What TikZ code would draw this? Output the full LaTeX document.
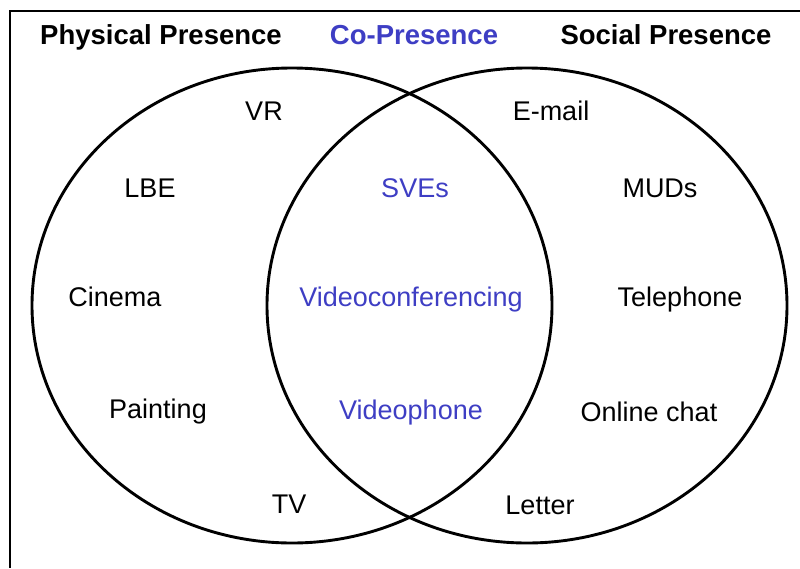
\documentclass[tikz,border=0pt]{standalone}
\usepackage{fontspec}
\setmainfont{Liberation Sans}
\definecolor{coblue}{RGB}{62,62,196}
\begin{document}
\begin{tikzpicture}[x=1pt,y=-1pt,
  lbl/.style={font=\fontsize{27}{32}\selectfont, anchor=base, inner sep=0pt},
  head/.style={font=\fontsize{27.5}{32}\selectfont\bfseries, anchor=base, inner sep=0pt},
  co/.style={text=coblue},
  ring/.style={line width=2.9pt}]
\useasboundingbox[fill=white] (0,0) rectangle (800,568);
% frame (top and left edges)
\coordinate (frameTR) at (800,11);
\coordinate (frameTL) at (10,11);
\coordinate (frameBL) at (10,568);
\draw[line width=2.9pt] (frameTR) -- (frameTL) -- (frameBL);

% the two overlapping sets
\coordinate (physC) at (292,305.5);
\coordinate (socC) at (527,305.5);
\draw[ring] (physC) ellipse [x radius=260, y radius=237.5];
\draw[ring] (socC) ellipse [x radius=260, y radius=237.5];

% headings
\node[head] (hPhys) at (161,44) {Physical Presence};
\node[head,co] (hCo) at (414,44) {Co-Presence};
\node[head] (hSoc) at (666,44) {Social Presence};

% physical presence
\node[lbl] (vr) at (264,120) {VR};
\node[lbl] (lbe) at (150,197) {LBE};
\node[lbl] (cinema) at (115,306) {Cinema};
\node[lbl] (painting) at (158,418) {Painting};
\node[lbl] (tv) at (289,513) {TV};

% co-presence
\node[lbl,co] (sves) at (415,197) {SVEs};
\node[lbl,co] (vconf) at (411,306) {Videoconferencing};
\node[lbl,co] (vphone) at (411,419) {Videophone};

% social presence
\node[lbl] (email) at (551,120) {E-mail};
\node[lbl] (muds) at (660,197) {MUDs};
\node[lbl] (phone) at (680,306) {Telephone};
\node[lbl] (chat) at (649,421) {Online chat};
\node[lbl] (letter) at (540,514) {Letter};
\end{tikzpicture}
\end{document}
